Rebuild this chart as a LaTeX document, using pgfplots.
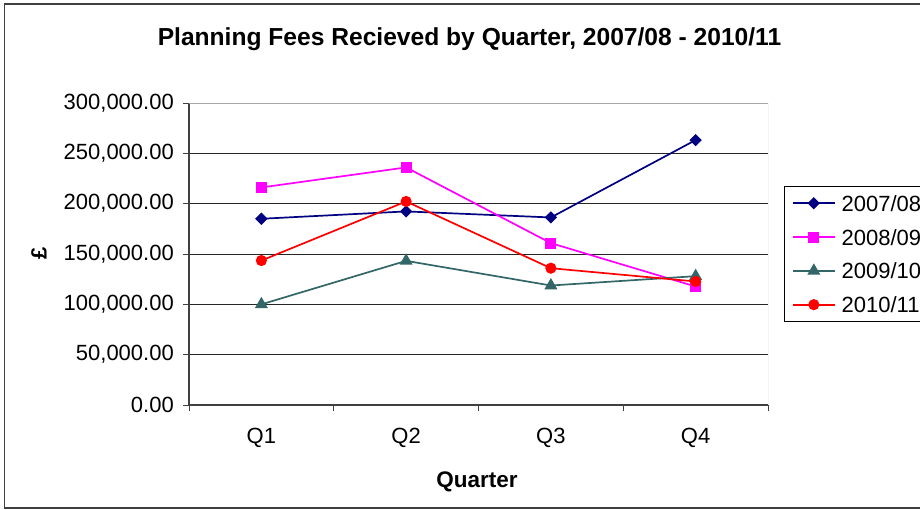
\documentclass[border=0pt]{standalone}
\usepackage{pgfplots}
\pgfplotsset{compat=1.18}
\usepackage{fontspec}
\setmainfont{Liberation Sans}
\definecolor{cNavy}{RGB}{0,0,128}
\definecolor{cMag}{RGB}{255,0,255}
\definecolor{cTeal}{RGB}{51,102,102}
\definecolor{cRed}{RGB}{255,0,0}
\definecolor{axgray}{RGB}{64,64,64}
\begin{document}
\begin{tikzpicture}
\useasboundingbox (0,0) rectangle (920pt,509pt);
\begin{axis}[
  at={(189pt,104pt)}, anchor=south west,
  scale only axis, width=579pt, height=302pt,
  xmin=0.5, xmax=4.5, ymin=0, ymax=300000,
  axis x line*=bottom, axis y line*=left,
  axis line style={-, axgray, line width=1.2pt},
  xtick={0.5,1.5,2.5,3.5,4.5},
  xticklabels={Q1,Q2,Q3,Q4},
  x tick label as interval,
  ytick={0,50000,100000,150000,200000,250000,300000},
  scaled y ticks=false,
  yticklabel style={/pgf/number format/fixed, /pgf/number format/fixed zerofill, /pgf/number format/precision=2, /pgf/number format/1000 sep={,}},
  /pgf/number format/assume math mode=true,
  tick align=outside, major tick length=6pt,
  tick style={axgray, line width=1pt},
  ymajorgrids, grid style={black!85, line width=1pt},
  ticklabel style={font=\fontsize{22}{26}\selectfont},
  yticklabel style={inner sep=0pt, xshift=-9pt},
  xticklabel style={inner sep=0pt, yshift=-17pt},
  title={\fontsize{24.6}{28}\selectfont\bfseries Planning Fees Recieved by Quarter, 2007/08 - 2010/11},
  title style={at={(axis description cs:0.4845,1.1689)}, anchor=base, inner sep=0pt},
  xlabel={\fontsize{22.5}{26}\selectfont\bfseries Quarter},
  xlabel style={at={(axis description cs:0.4974,-0.2748)}, anchor=base, inner sep=0pt},
  ylabel={\fontsize{22}{26}\selectfont\bfseries £},
  ylabel style={at={(axis description cs:-0.259,0.503)}, anchor=center, inner sep=0pt},
  legend style={at={(axis description cs:1.0276,0.726)}, anchor=north west,
    draw=black, line width=1pt, inner xsep=7.5pt, inner ysep=9pt,
    font=\fontsize{22}{26}\selectfont, row sep=17.8pt,
    nodes={inner sep=0pt, text height=16pt, text depth=0pt},
    /tikz/every odd column/.style={column sep=6pt}},
  legend cell align=left,
  legend image code/.code={\draw[mark repeat=2,mark phase=2,#1] plot coordinates {(0pt,0pt) (21pt,0pt) (42pt,0pt)};},
]
\addplot[cNavy, line width=1.7pt, mark=square*, mark size=3.5pt, mark options={rotate=45, solid}] coordinates {(1,185000) (2,192300) (3,186300) (4,263200)};
\addlegendentry{2007/08}
\addplot[cMag, line width=1.7pt, mark=square*, mark size=4.6pt, mark options={solid}] coordinates {(1,216100) (2,236000) (3,160800) (4,117700)};
\addlegendentry{2008/09}
\addplot[cTeal, line width=1.7pt, mark=triangle*, mark size=5.8pt, mark options={solid}] coordinates {(1,100000) (2,143200) (3,118700) (4,128000)};
\addlegendentry{2009/10}
\addplot[cRed, line width=1.7pt, mark=*, mark size=4.7pt, mark options={solid}] coordinates {(1,143500) (2,202200) (3,135900) (4,122700)};
\addlegendentry{2010/11}
\draw[gray!70, line width=1pt] (rel axis cs:0,1) -- (rel axis cs:1,1) -- (rel axis cs:1,0);
\end{axis}
\draw[axgray, line width=1.2pt] (4.5pt,1pt) rectangle (935pt,505pt);
\end{tikzpicture}
\end{document}
